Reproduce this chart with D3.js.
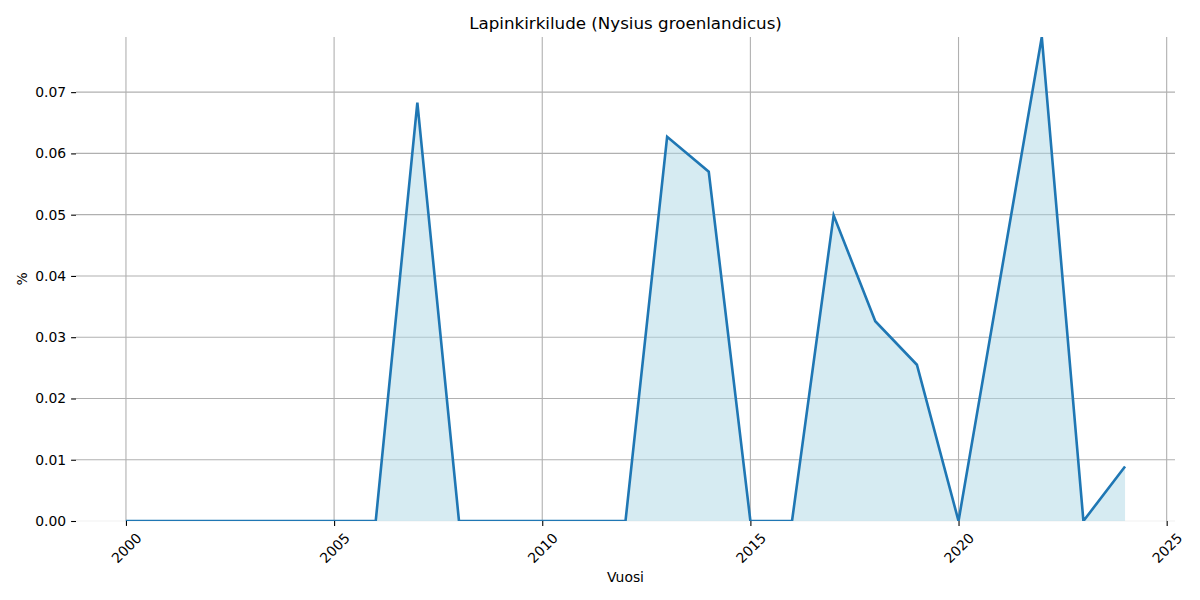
<!DOCTYPE html>
<html>
<head>
<meta charset="utf-8">
<script src="https://cdn.jsdelivr.net/npm/d3@7"></script>
<style>
  body { margin: 0; background: #fff; }
  svg { display: block; font-family: "DejaVu Sans", sans-serif; }
</style>
</head>
<body>
<svg id="chart" width="1200" height="600"></svg>
<script>
const title = "Lapinkirkilude (Nysius groenlandicus)";
const xLabel = "Vuosi";
const yLabel = "%";
const years = [2000,2001,2002,2003,2004,2005,2006,2007,2008,2009,2010,2011,2012,2013,2014,2015,2016,2017,2018,2019,2020,2021,2022,2023,2024];
const values = [0,0,0,0,0,0,0,0.0683,0,0,0,0,0,0.0627,0.0570,0,0,0.0499,0.0326,0.0255,0,0.0395,0.0790,0,0.0089];
const xTicks = [2000,2005,2010,2015,2020,2025];
const yTicks = [0,0.01,0.02,0.03,0.04,0.05,0.06,0.07];

const svg = d3.select("#chart");
const m = {left: 76, right: 25, top: 37, bottom: 79};
const W = 1200, H = 600;
const FONT = "DejaVu Sans, sans-serif";

const x = d3.scaleLinear().domain([1998.8, 2025.2]).range([m.left, W - m.right]);
const y = d3.scaleLinear().domain([0, d3.max(values)]).range([H - m.bottom, m.top]);

svg.append("defs").append("clipPath").attr("id", "clip")
  .append("rect").attr("x", m.left).attr("y", m.top)
  .attr("width", W - m.right - m.left).attr("height", H - m.bottom - m.top);

// grid
const grid = svg.append("g");
grid.selectAll(".gx").data(xTicks).enter().append("line")
  .attr("x1", d => x(d)).attr("x2", d => x(d))
  .attr("y1", m.top).attr("y2", H - m.bottom)
  .attr("stroke", "#b0b0b0").attr("stroke-width", 1.1);
grid.selectAll(".gy").data(yTicks).enter().append("line")
  .attr("x1", m.left).attr("x2", W - m.right)
  .attr("y1", d => y(d)).attr("y2", d => y(d))
  .attr("stroke", "#b0b0b0").attr("stroke-width", 1.1)
  .attr("opacity", d => d === 0 ? 0.15 : 1);

const data = years.map((yr, i) => ({yr, v: values[i]}));
const plot = svg.append("g").attr("clip-path", "url(#clip)");
plot.append("path").datum(data)
  .attr("d", d3.area().x(d => x(d.yr)).y0(y(0)).y1(d => y(d.v)))
  .attr("fill", "#add8e6").attr("fill-opacity", 0.5);
plot.append("path").datum(data)
  .attr("d", d3.line().x(d => x(d.yr)).y(d => y(d.v)))
  .attr("fill", "none").attr("stroke", "#1f77b4").attr("stroke-width", 2.6)
  .attr("stroke-linejoin", "miter");

// axes
const xAxis = d3.axisBottom(x).tickValues(xTicks).tickFormat(d3.format("d")).tickSize(4.9).tickPadding(3.5);
const gx = svg.append("g").attr("transform", `translate(0,${H - m.bottom})`).call(xAxis)
  .attr("font-family", FONT);
gx.select(".domain").remove();
gx.selectAll("line").attr("stroke", "#000").attr("stroke-width", 1.1);
gx.selectAll("text")
  .attr("font-size", "13.9px").attr("fill", "#000")
  .attr("text-anchor", "middle").attr("dy", null).attr("y", null)
  .attr("dominant-baseline", "central")
  .attr("transform", "translate(0,27) rotate(-45)");

const yAxis = d3.axisLeft(y).tickValues(yTicks).tickFormat(d3.format(".2f")).tickSize(4.9).tickPadding(4.9);
const gy = svg.append("g").attr("transform", `translate(${m.left},0)`).call(yAxis)
  .attr("font-family", FONT);
gy.select(".domain").remove();
gy.selectAll("line").attr("stroke", "#000").attr("stroke-width", 1.1);
gy.selectAll("text").attr("font-size", "13.9px").attr("fill", "#000");

// labels
svg.append("text").attr("x", (m.left + W - m.right) / 2).attr("y", 29)
  .attr("text-anchor", "middle").attr("font-size", "16.7px").attr("fill", "#000").text(title);
svg.append("text").attr("x", (m.left + W - m.right) / 2).attr("y", 582)
  .attr("text-anchor", "middle").attr("font-size", "13.9px").attr("fill", "#000").text(xLabel);
svg.append("text").attr("transform", `translate(27,${(m.top + H - m.bottom) / 2}) rotate(-90)`)
  .attr("text-anchor", "middle").attr("font-size", "13.9px").attr("fill", "#000").text(yLabel);
</script>
</body>
</html>
